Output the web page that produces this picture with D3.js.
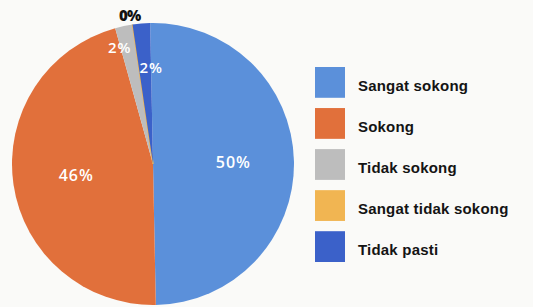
<!DOCTYPE html>
<html>
<head>
<meta charset="utf-8">
<script src="https://cdn.jsdelivr.net/npm/d3@7"></script>
<style>
  html, body { margin: 0; padding: 0; background: #fafaf8; }
  svg { display: block; }
</style>
</head>
<body>
<svg id="chart" width="533" height="307"></svg>
<script>
// ---- data ----
const categories = ["Sangat sokong", "Sokong", "Tidak sokong", "Sangat tidak sokong", "Tidak pasti"];
const values = [50, 46, 2, 0, 2];
const labels = ["50%", "46%", "2%", "0%", "2%"];
const colors = ["#5b90da", "#e1703b", "#bdbdbd", "#f1b552", "#3b61c9"];

// ---- layout ----
const W = 533, H = 307;
const cx = 153, cy = 164, R = 141;
const svg = d3.select("#chart");

const pie = d3.pie().sort(null).value(d => d)
  .startAngle(-0.02).endAngle(2 * Math.PI - 0.02);
const arcs = pie(values);

const arc = d3.arc().innerRadius(0).outerRadius(R);

const g = svg.append("g").attr("transform", `translate(${cx},${cy})`);

g.selectAll("path.slice")
  .data(arcs)
  .join("path")
  .attr("class", "slice")
  .attr("d", arc)
  .attr("fill", (d, i) => colors[i])
  .attr("stroke", (d, i) => i === 3 ? colors[3] : "none")
  .attr("stroke-width", (d, i) => i === 3 ? 1.5 : 0);

// label placement: radius factor and angular nudge per slice
const rFactor = [0.57, 0.55, 0.86, 1.07, 0.69];
const aNudge = [0, 0, -0.07, -0.01, 0.065];
const labelColor = ["#ffffff", "#ffffff", "#ffffff", "#111111", "#ffffff"];

g.selectAll("text.pct")
  .data(arcs)
  .join("text")
  .attr("class", "pct")
  .attr("x", (d, i) => {
    const a = (d.startAngle + d.endAngle) / 2 + aNudge[i];
    return Math.sin(a) * R * rFactor[i];
  })
  .attr("y", (d, i) => {
    const a = (d.startAngle + d.endAngle) / 2 + aNudge[i];
    return -Math.cos(a) * R * rFactor[i];
  })
  .attr("text-anchor", "middle")
  .attr("dominant-baseline", "central")
  .attr("font-family", "'Open Sans', sans-serif")
  .attr("font-weight", (d, i) => i === 3 ? 800 : 600)
  .attr("font-size", (d, i) => i === 0 || i === 1 ? 16 : 15)
  .attr("letter-spacing", (d, i) => i === 3 ? -1 : 1)
  .attr("fill", (d, i) => labelColor[i])
  .text((d, i) => labels[i]);

// ---- legend ----
const legendY = d3.scaleBand()
  .domain(categories)
  .range([67, 262])
  .paddingInner(0.25)
  .paddingOuter(0);

const leg = svg.append("g");
const rows = leg.selectAll("g.row")
  .data(categories)
  .join("g")
  .attr("class", "row")
  .attr("transform", d => `translate(315,${legendY(d)})`);

rows.append("rect")
  .attr("width", 30)
  .attr("height", legendY.bandwidth())
  .attr("fill", (d, i) => colors[i]);

rows.append("text")
  .attr("x", 43)
  .attr("y", legendY.bandwidth() / 2 + 3)
  .attr("dominant-baseline", "central")
  .attr("font-family", "'Liberation Sans', Arial, sans-serif")
  .attr("font-weight", "bold")
  .attr("font-size", 15)
  .attr("letter-spacing", 0.2)
  .attr("fill", "#141414")
  .text(d => d);
</script>
</body>
</html>
